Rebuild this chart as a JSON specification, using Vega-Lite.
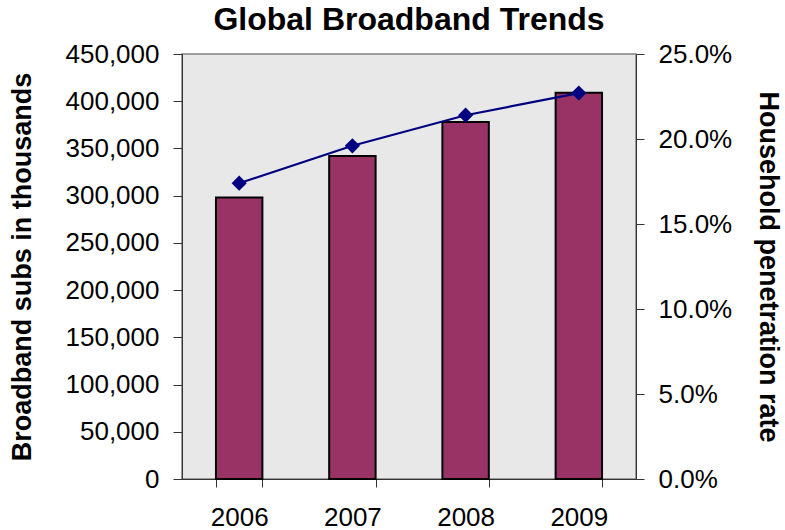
{
  "$schema": "https://vega.github.io/schema/vega-lite/v6.json",
  "autosize": "none",
  "width": 454,
  "height": 425,
  "padding": {"left": 182, "top": 54, "right": 149, "bottom": 51},
  "background": "white",
  "title": {
    "text": "Global Broadband Trends",
    "font": "Liberation Sans",
    "fontSize": 32,
    "fontWeight": "bold",
    "color": "black",
    "anchor": "middle",
    "offset": 4
  },
  "config": {
    "view": {"fill": "#E8E8E8", "stroke": "#808080", "strokeWidth": 1.5},
    "axis": {
      "labelFont": "Liberation Sans",
      "titleFont": "Liberation Sans",
      "labelFontSize": 26,
      "titleFontSize": 27,
      "labelColor": "black",
      "titleColor": "black",
      "domainColor": "#333333",
      "tickColor": "#333333",
      "grid": false
    }
  },
  "data": {
    "values": [
      {"year": "2006", "subs": 298000, "rate": 0.174},
      {"year": "2007", "subs": 342000, "rate": 0.196},
      {"year": "2008", "subs": 378000, "rate": 0.214},
      {"year": "2009", "subs": 409000, "rate": 0.227}
    ]
  },
  "encoding": {
    "x": {
      "field": "year",
      "type": "ordinal",
      "scale": {"paddingInner": 0.59, "paddingOuter": 0.3},
      "axis": {
        "title": null,
        "labelAngle": 0,
        "labelPadding": 17,
        "tickBand": "extent",
        "tickSize": 8
      }
    }
  },
  "layer": [
    {
      "mark": {"type": "bar", "color": "#993366", "stroke": "black", "strokeWidth": 2},
      "encoding": {
        "y": {
          "field": "subs",
          "type": "quantitative",
          "scale": {"domain": [0, 450000], "nice": false},
          "axis": {
            "title": "Broadband subs in thousands",
            "format": ",.0f",
            "values": [0, 50000, 100000, 150000, 200000, 250000, 300000, 350000, 400000, 450000],
            "tickSize": 9,
            "labelPadding": 14,
            "titlePadding": 29
          }
        }
      }
    },
    {
      "mark": {"type": "line", "color": "#000080", "strokeWidth": 2.2, "point": {"shape": "diamond", "size": 230, "color": "#000080", "filled": true}},
      "encoding": {
        "y": {
          "field": "rate",
          "type": "quantitative",
          "scale": {"domain": [0, 0.25], "nice": false},
          "axis": {
            "orient": "right",
            "title": "Household penetration rate",
            "format": ".1%",
            "values": [0, 0.05, 0.1, 0.15, 0.2, 0.25],
            "tickSize": 8,
            "labelPadding": 14,
            "titlePadding": 22
          }
        }
      }
    }
  ],
  "resolve": {"scale": {"y": "independent"}}
}
